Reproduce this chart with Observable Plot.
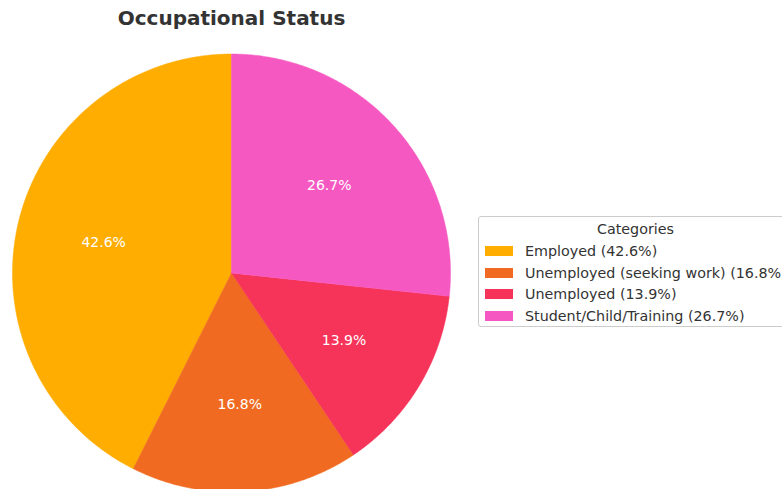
<!DOCTYPE html>
<html>
<head>
<meta charset="utf-8">
<script src="https://cdn.jsdelivr.net/npm/d3@7"></script>
<script src="https://cdn.jsdelivr.net/npm/@observablehq/plot@0.6"></script>
<style>
  html, body { margin: 0; padding: 0; overflow: hidden; background: white; }
  #wrap { position: relative; width: 782px; height: 489px; font-family: "DejaVu Sans", sans-serif; }
  #legend { position: absolute; left: 478px; top: 216px; width: 315px; height: 111px; border: 1px solid #cccccc; border-radius: 3px; background: rgba(255,255,255,0.8); box-sizing: border-box; color: #333; font-size: 14.3px; }
  #legend .ttl { position: absolute; left: 0; width: 100%; text-align: center; top: 4px; }
  #legend .row { position: absolute; left: 6px; height: 20px; display: flex; align-items: center; white-space: nowrap; }
  #legend .sw { width: 28px; height: 10px; margin-right: 12px; }
</style>
</head>
<body>
<div id="wrap"></div>
<script>
const title = "Occupational Status";
const legendTitle = "Categories";
const categories = ["Employed", "Unemployed (seeking work)", "Unemployed", "Student/Child/Training"];
const values = [42.6, 16.8, 13.9, 26.7];
const colors = ["#ffad00", "#f06b21", "#f63358", "#f658c2"];

const total = d3.sum(values);
const startDeg = 90;
// build slices counterclockwise starting at top
let acc = 0;
const slices = categories.map((c, i) => {
  const a0 = (startDeg + acc / total * 360) * Math.PI / 180;
  acc += values[i];
  const a1 = (startDeg + acc / total * 360) * Math.PI / 180;
  const n = Math.max(4, Math.ceil((a1 - a0) / (Math.PI / 360)));
  const pts = [{x: 0, y: 0}];
  for (let k = 0; k <= n; k++) {
    const a = a0 + (a1 - a0) * k / n;
    pts.push({x: Math.cos(a), y: Math.sin(a)});
  }
  pts.push({x: 0, y: 0});
  const mid = (a0 + a1) / 2;
  return {category: c, value: values[i], color: colors[i], pts, lx: 0.6 * Math.cos(mid), ly: 0.6 * Math.sin(mid)};
});

const chart = Plot.plot({
  width: 782,
  height: 489,
  margin: 0,
  x: {domain: [-1, 1], range: [12, 450], axis: null},
  y: {domain: [-1, 1], range: [491.5, 53.5], axis: null},
  style: {background: "white", fontFamily: "DejaVu Sans, sans-serif"},
  marks: [
    ...slices.map(s => Plot.line(s.pts, {x: "x", y: "y", fill: s.color, stroke: s.color, strokeWidth: 0.5, curve: "linear-closed"})),
    Plot.text(slices, {x: "lx", y: "ly", text: d => d.value.toFixed(1) + "%", fill: "white", fontSize: 14}),
    Plot.text([title], {frameAnchor: "top-left", dx: 231, dy: 18, text: d => d, fontSize: 20, fontWeight: "bold", fill: "#333", textAnchor: "middle", lineAnchor: "middle"})
  ]
});

const wrap = document.getElementById("wrap");
wrap.appendChild(chart);

const lg = document.createElement("div");
lg.id = "legend";
const t = document.createElement("div");
t.className = "ttl";
t.textContent = legendTitle;
lg.appendChild(t);
slices.forEach((s, i) => {
  const r = document.createElement("div");
  r.className = "row";
  r.style.top = (24 + i * 21.7) + "px";
  const sw = document.createElement("div");
  sw.className = "sw";
  sw.style.background = s.color;
  r.appendChild(sw);
  const tx = document.createElement("span");
  tx.textContent = `${s.category} (${s.value.toFixed(1)}%)`;
  r.appendChild(tx);
  lg.appendChild(r);
});
wrap.appendChild(lg);
</script>
</body>
</html>
